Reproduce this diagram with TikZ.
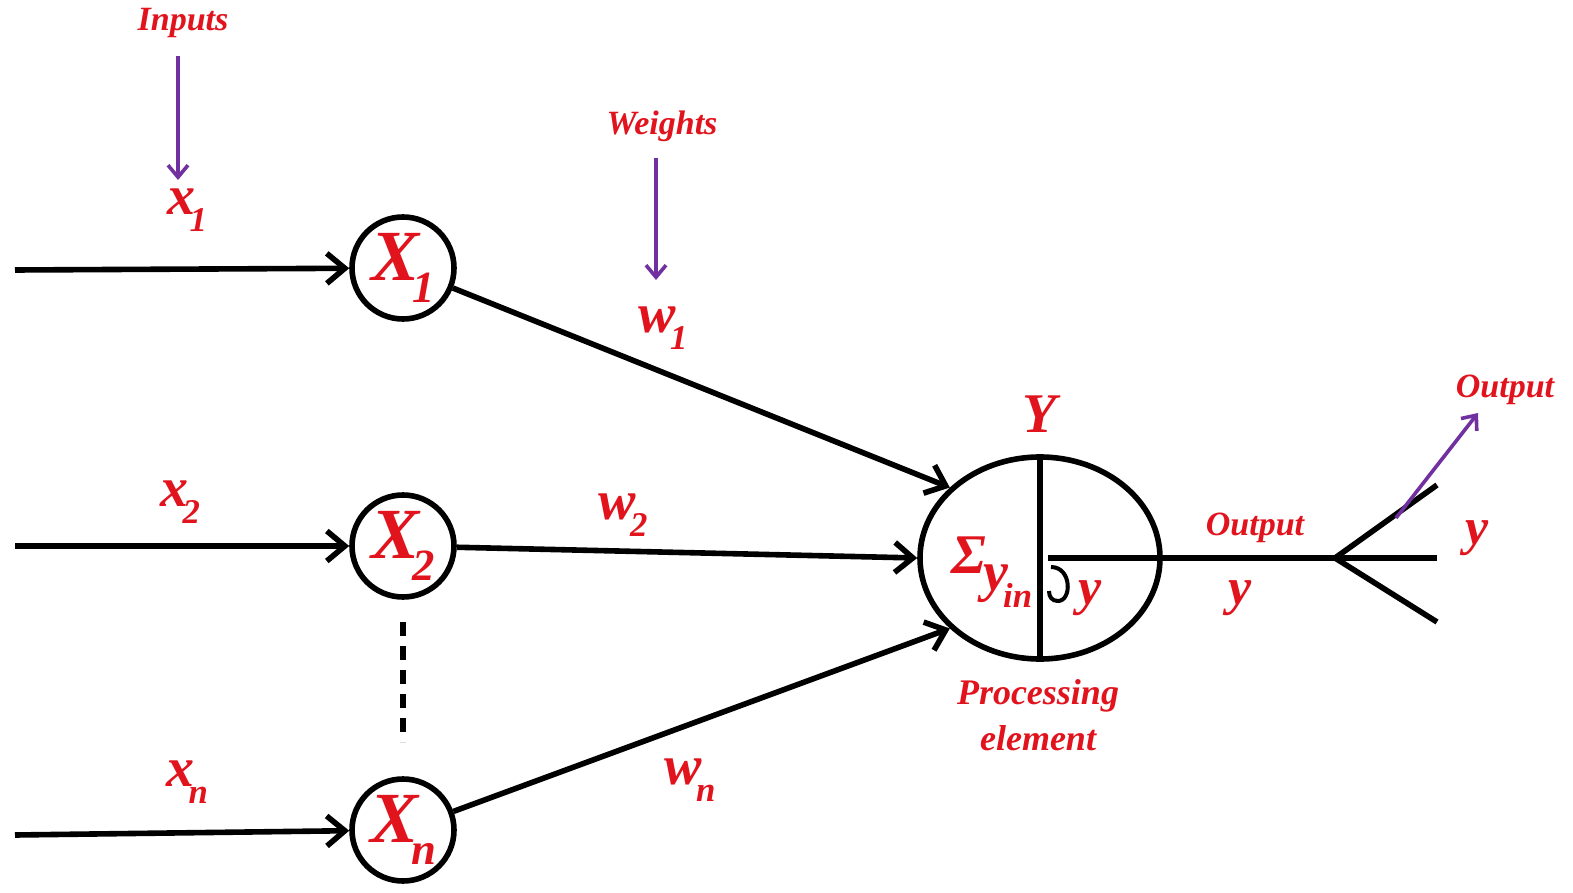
\documentclass[tikz,border=0pt]{standalone}
\usepackage{fontspec}
\usepackage{graphicx}
\setmainfont{Liberation Serif}
\usetikzlibrary{arrows.meta,shapes.geometric}
\definecolor{redtxt}{RGB}{225,20,30}
\definecolor{purp}{RGB}{112,48,160}
\newcommand{\subsc}[1]{\kern-0.1em\raisebox{-0.3em}{\scalebox{0.62}{#1}}}
\begin{document}
\begin{tikzpicture}[x=0.5pt,y=-0.5pt,
  lbl/.style={text=redtxt,font=\bfseries\itshape\fontsize{#1}{#1}\selectfont,inner sep=0pt},
  neuron/.style={circle,draw,line width=2.8pt,minimum size=51pt,inner sep=0pt,text=redtxt,font=\bfseries\itshape\fontsize{36pt}{36pt}\selectfont},
  wire/.style={line width=2.8pt,-{Straight Barb[length=9pt,width=15pt]}},
  plain/.style={line width=2.8pt},
  pointer/.style={draw=purp,line width=1.8pt,-{Straight Barb[length=6pt,width=10pt]}}]
\useasboundingbox[fill=white] (0,0) rectangle (1573,893);

% input neurons
\node[neuron] (X1) at (403,268) {X\subsc{1}};
\node[neuron] (X2) at (403,546) {X\subsc{2}};
\node[neuron] (Xn) at (403,830) {X\subsc{n}};

% processing element
\node[ellipse,draw,line width=2.8pt,minimum width=120pt,minimum height=101pt] (P) at (1040,558) {};

% input lines
\coordinate (i1) at (15,270);
\coordinate (i2) at (15,546);
\coordinate (in) at (15,835);
\draw[wire] (i1) -- (X1);
\draw[wire] (i2) -- (X2);
\draw[wire] (in) -- (Xn);

% weighted connections
\draw[wire] (X1) -- (P.142);
\draw[wire] (X2) -- (P.west);
\draw[wire] (Xn) -- (P.218);

% dashed
\coordinate (d1) at (403,622);
\coordinate (d2) at (403,742);
\draw[line width=3pt,dash pattern=on 7pt off 5pt] (d1) -- (d2);

% inside ellipse
\draw[plain] (P.north) -- (P.south);
\coordinate (hs) at (1048,558);
\coordinate (F) at (1335,558);
\coordinate (o1) at (1437,485);
\coordinate (o2) at (1437,558);
\coordinate (o3) at (1437,622);
\draw[plain] (hs) -- (F) -- (o2);
\draw[plain] (o1) -- (F) -- (o3);
\draw[line width=2pt] (1051,567) .. controls (1072,567) and (1072,601) .. (1058,601) .. controls (1052,601) and (1049,597) .. (1049,591);

% labels
\node[lbl=17pt] (tin) at (183,23) {Inputs};
\node[lbl=17pt] (tw) at (662,126) {Weights};
\coordinate (a1) at (178,56);
\coordinate (a2) at (178,180);
\draw[pointer] (a1) -- (a2);
\coordinate (b1) at (656,158);
\coordinate (b2) at (656,280);
\draw[pointer] (b1) -- (b2);

\node[lbl=28pt] (lx1) at (187,210) {x\subsc{1}};
\node[lbl=28pt] (lx2) at (180,502) {x\subsc{2}};
\node[lbl=28pt] (lxn) at (187,782) {x\subsc{n}};
\node[lbl=28pt] (lw1) at (663,328) {w\subsc{1}};
\node[lbl=28pt] (lw2) at (623,515) {w\subsc{2}};
\node[lbl=28pt] (lwn) at (690,780) {w\subsc{n}};

\node[lbl=28pt] (lY) at (1040,414) {Y};
\node[lbl=28pt] (lsig) at (992,572) {Σ\kern-0.05em\raisebox{-0.3em}{y\subsc{in}}};
\node[lbl=26pt] (ly) at (1090,598) {y};
\node[lbl=18pt,align=center] (lpe) at (1038,715) {Processing\\[5pt]element};

\node[lbl=17pt] (lout) at (1255,528) {Output};
\node[lbl=26pt] (ly2) at (1240,598) {y};
\node[lbl=26pt] (ly3) at (1477,538) {y};
\node[lbl=17pt] (lout2) at (1505,390) {Output};
\coordinate (c1) at (1396,518);
\coordinate (c2) at (1478,413);
\draw[pointer] (c1) -- (c2);
\end{tikzpicture}
\end{document}
